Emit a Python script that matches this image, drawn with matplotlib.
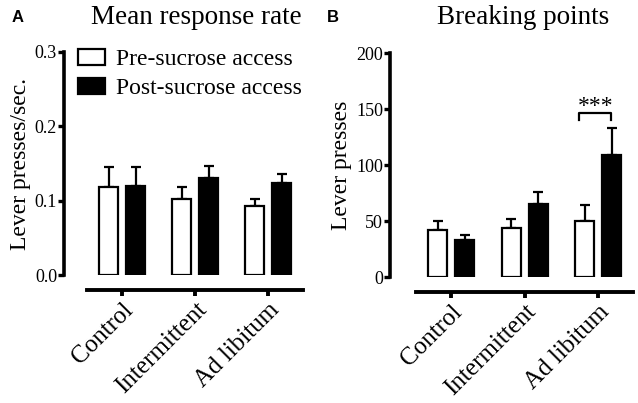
import numpy as np
import matplotlib
matplotlib.use("Agg")
import matplotlib.pyplot as plt

# data
groups = ['Control', 'Intermittent', 'Ad libitum']
rate_pre = [0.118, 0.102, 0.093]
rate_pre_err = [0.027, 0.016, 0.009]
rate_post = [0.120, 0.130, 0.124]
rate_post_err = [0.025, 0.016, 0.012]
bp_pre = [42, 44, 50]
bp_pre_err = [8, 8, 14]
bp_post = [33, 65, 109]
bp_post_err = [4.5, 11, 24]
legend_labels = ['Pre-sucrose access', 'Post-sucrose access']

plt.rcParams['font.family'] = ['Liberation Serif', 'DejaVu Serif']

fig = plt.figure(figsize=(6.38, 4.03), dpi=100)
axA = fig.add_axes([64/638, 1-275/403, 241/638, 223/403])
axB = fig.add_axes([390/638, 1-277/403, 245/638, 224/403])

width = 0.26
off = 0.185


def draw_panel(ax, pre, pre_err, post, post_err, left, ylim, yticks, ticklabels):
	x = np.arange(len(groups))
	# spines first: moving a spine resets the tick labels
	for s in ['top', 'right']:
		ax.spines[s].set_visible(False)
	ax.spines['left'].set_linewidth(2.6)
	ax.spines['bottom'].set_linewidth(2.8)
	ax.spines['bottom'].set_position(('outward', 11))
	ax.spines['bottom'].set_bounds(-0.48, 2.47)

	ax.bar(x - off, pre, width, color='white', edgecolor='black', linewidth=1.6, zorder=3)
	ax.bar(x + off, post, width, color='black', edgecolor='black', linewidth=1.6, zorder=3)
	ax.errorbar(x - off, pre, yerr=[np.zeros(len(pre)), pre_err], fmt='none',
		ecolor='black', elinewidth=1.6, capsize=3.8, capthick=1.6, zorder=2)
	ax.errorbar(x + off, post, yerr=[np.zeros(len(post)), post_err], fmt='none',
		ecolor='black', elinewidth=1.6, capsize=3.8, capthick=1.6, zorder=2)
	ax.set_xlim(left, 2.5)
	ax.set_ylim(*ylim)
	ax.set_yticks(yticks)
	ax.set_yticklabels(ticklabels, fontsize=13)
	ax.set_xticks(x)
	ax.set_xticklabels(groups, rotation=45, ha='right', va='top',
		rotation_mode='anchor', fontsize=18)
	ax.tick_params(axis='y', width=2.4, length=4, pad=1)
	ax.tick_params(axis='x', width=2.8, length=4, pad=2)
	ax.patch.set_visible(False)


draw_panel(axA, rate_pre, rate_pre_err, rate_post, rate_post_err, -0.795,
	(0, 0.3), [0, 0.1, 0.2, 0.3], ['0.0', '0.1', '0.2', '0.3'])
draw_panel(axB, bp_pre, bp_pre_err, bp_post, bp_post_err, -0.835,
	(0, 200), [0, 50, 100, 150, 200], ['0', '50', '100', '150', '200'])

axA.set_ylabel('Lever presses/sec.', fontsize=17, labelpad=3)
axB.set_ylabel('Lever presses', fontsize=17, labelpad=3)

# legend
h1 = plt.Rectangle((0, 0), 1, 1, facecolor='white', edgecolor='black', linewidth=1.6)
h2 = plt.Rectangle((0, 0), 1, 1, facecolor='black', edgecolor='black', linewidth=1.6)
fig.legend([h1, h2], legend_labels, loc='upper left', bbox_to_anchor=(78/638, 1-49/403),
	frameon=False, fontsize=17, handlelength=1.15, handleheight=0.65,
	handletextpad=0.45, labelspacing=0.33, borderpad=0, borderaxespad=0)

# significance bracket
axB.plot([2-0.26, 2-0.26, 2+0.18, 2+0.18], [140, 146, 146, 140], color='black', lw=1.6)
axB.text(2-0.04, 143, '***', ha='center', va='bottom', fontsize=17)

# titles and panel letters
fig.text(196/638, 1-17/403, 'Mean response rate', ha='center', va='center', fontsize=19.5)
fig.text(523/638, 1-17/403, 'Breaking points', ha='center', va='center', fontsize=19.5)
fig.text(12/638, 1-17/403, 'A', ha='left', va='center', fontsize=12,
	fontweight='bold', family='Liberation Sans')
fig.text(327/638, 1-17/403, 'B', ha='left', va='center', fontsize=12,
	fontweight='bold', family='Liberation Sans')

fig.savefig('out.png', dpi=100)
